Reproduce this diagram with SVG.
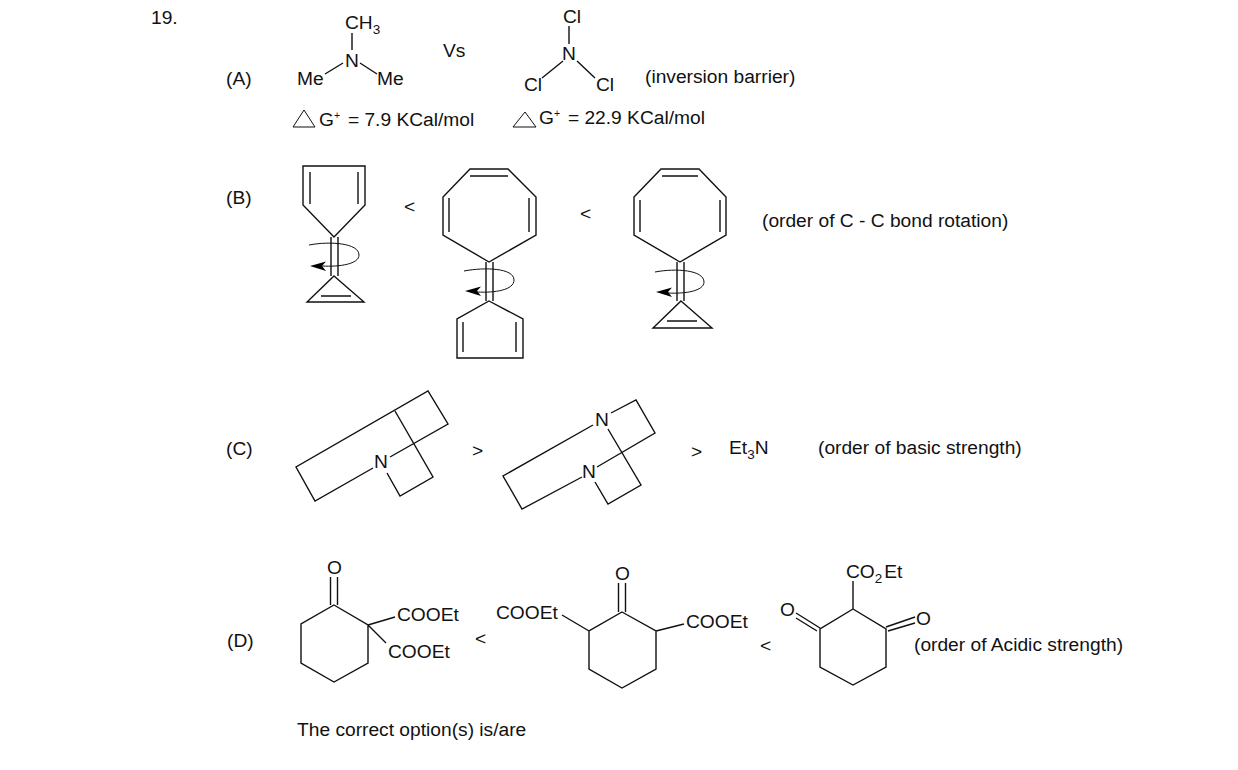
<svg xmlns="http://www.w3.org/2000/svg" width="1238" height="770" viewBox="0 0 1238 770">
<style>
text{font-family:"Liberation Sans",Arial,sans-serif;font-size:19.2px;fill:#111}
.b{fill:none;stroke:#111;stroke-width:1.4;stroke-linejoin:miter}
.a{fill:none;stroke:#111;stroke-width:1}
.h{fill:#000;stroke:none}
.s{font-size:13.500px}
.p{font-size:10.500px}
</style>
<defs>
<path id="head" class="h" d="M0 0L16 -4.5L12 0L16 5Z"/>
</defs>
<rect width="1238" height="770" fill="#fff"/>
<g id="labels">
<text x="151" y="24">19.</text>
<text x="226" y="85">(A)</text>
<text x="226" y="204">(B)</text>
<text x="226" y="455">(C)</text>
<text x="227" y="647">(D)</text>
<text x="443" y="57">Vs</text>
<text x="645" y="83">(inversion barrier)</text>
<text x="762" y="227">(order of C - C bond rotation)</text>
<text x="818" y="454">(order of basic strength)</text>
<text x="914" y="651">(order of Acidic strength)</text>
<text x="297" y="736">The correct option(s) is/are</text>
<text x="404" y="213">&lt;</text>
<text x="580" y="220">&lt;</text>
<text x="472" y="457">&gt;</text>
<text x="691" y="458">&gt;</text>
<text x="475" y="645">&lt;</text>
<text x="760" y="652">&lt;</text>
</g>
<g id="connectors">
<path class="a" d="M309 245C330 241 359 243 359 255C359 264 340 267 322 266"/>
<use href="#head" x="310" y="266"/>
<path class="a" d="M464 271C485 267 514 268 514 280C514 290 495 293 477 292"/>
<use href="#head" x="465" y="291"/>
<path class="a" d="M655 272C676 268 704 270 704 282C704 291 685 294 668 293"/>
<use href="#head" x="656" y="292"/>
</g>
<g id="mol-a1">
<path class="b" d="M352 33V50M325 74L343 63M360 63L377 74"/>
<text x="345" y="29">CH<tspan dy="5" class="s">3</tspan></text>
<text x="345" y="67">N</text>
<text x="297" y="85">Me</text>
<text x="377" y="85">Me</text>
</g>
<g id="mol-a2">
<path class="b" d="M569 26V44M542 78L563 61M577 61L595 78"/>
<text x="563" y="23">Cl</text>
<text x="562" y="60">N</text>
<text x="524" y="91">Cl</text>
<text x="596" y="91">Cl</text>
</g>
<g id="delta-a1">
<path class="a" d="M293 127L304 110L315 127Z"/>
<text x="319" y="126">G<tspan dy="-7" class="p">+</tspan><tspan dy="7" dx="2.500"> = 7.9 KCal/mol</tspan></text>
</g>
<g id="delta-a2">
<path class="a" d="M513 127L525 112L536 127Z"/>
<text x="539" y="124">G<tspan dy="-7" class="p">+</tspan><tspan dy="7" dx="2.500"> = 22.9 KCal/mol</tspan></text>
</g>
<g id="mol-b1">
<path class="b" d="M303 166H365V205L334 237L303 205ZM310 172V204M358 172V204M331 237V276M338 237V276M334 276L364 302H307ZM321 296H351"/>
</g>
<g id="mol-b2">
<path class="b" d="M470 169H508L536 197V235L489 262L443 235V197ZM470 176H508M449 198V232M529 198V232M486 262V301M493 262V301M489 301L523 319V358H457V319ZM463 322V352M516 322V352"/>
</g>
<g id="mol-b3">
<path class="b" d="M661 169H699L726 197V235L680 262L634 235V197ZM662 176H698M640 200V232M720 200V232M677 262V301M684 262V301M681 301L712 328H653ZM667 321H697"/>
</g>
<g id="mol-c1">
<path class="b" d="M373 468L315 501L296 467L428 391L448 424L390 457M395 411L433 477L400 496L387 473"/>
<text x="374" y="468">N</text>
</g>
<g id="mol-c2">
<path class="b" d="M582 477L522 509L503 476L593 425M611 413L636 400L655 433L597 467M608 429L641 485L608 504L595 482"/>
<text x="595" y="426">N</text>
<text x="582" y="478">N</text>
</g>
<g id="et3n">
<text x="729" y="454">Et<tspan dy="5" class="s">3</tspan><tspan dy="-5">N</tspan></text>
</g>
<g id="mol-d1">
<path class="b" d="M334 605L368 625V663L334 682L301 663V624ZM330.500 577V605M337.500 577V605M368 625L395 617M368 625L386 643"/>
<text x="327" y="574">O</text>
<text x="397" y="621">COOEt</text>
<text x="388" y="658">COOEt</text>
</g>
<g id="mol-d2">
<path class="b" d="M622 612L656 631V669L622 688L589 669V631ZM618.500 583V612M625.500 583V612M562 615L589 631M656 631L684 624"/>
<text x="615" y="580">O</text>
<text x="496" y="619">COOEt</text>
<text x="686" y="628">COOEt</text>
</g>
<g id="mol-d3">
<path class="b" d="M853 609L886 629V667L853 685L820 667V629ZM853 609V581M796 613L820 628M796 618L817 631M886 627L915 617M888 631L915 623"/>
<text x="846" y="578">CO<tspan dy="5" class="s">2</tspan><tspan dy="-5" dx="2">Et</tspan></text>
<text x="780" y="616">O</text>
<text x="916" y="625">O</text>
</g>
</svg>
